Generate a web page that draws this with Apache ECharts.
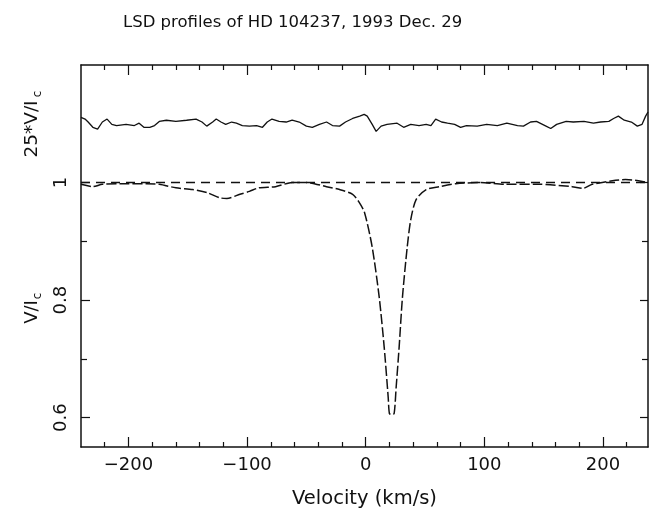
<!DOCTYPE html>
<html>
<head>
<meta charset="utf-8">
<script src="https://cdn.jsdelivr.net/npm/echarts@6/dist/echarts.min.js"></script>
<style>
html,body{margin:0;padding:0;background:#fff;}
#chart{width:650px;height:516px;}
</style>
</head>
<body>
<div id="chart"></div>
<script>
// ---- data ----
var titleText = 'LSD profiles of HD 104237, 1993 Dec. 29';
var xName = 'Velocity (km/s)';
var xMajorTicks = [-200, -100, 0, 100, 200];
var xMinorTicks = [-220, -180, -160, -140, -120, -80, -60, -40, -20, 20, 40, 60, 80, 120, 140, 160, 180, 220];
var yMajorTicks = [0.6, 0.8, 1.0];
var yMinorTicks = [0.7, 0.9];

// Stokes I profile (V/Ic in the label), velocity [km/s] vs normalised intensity
var iProfile = [
  [-240, 0.997], [-230, 0.993], [-222, 0.997], [-202, 0.998], [-185, 0.998], [-174, 0.997],
  [-160, 0.991], [-146, 0.988], [-134, 0.983], [-123, 0.974], [-117, 0.973], [-106, 0.980],
  [-98, 0.985], [-90, 0.991], [-76, 0.993], [-62, 1.000], [-50, 1.000], [-33, 0.993],
  [-22, 0.988], [-11, 0.980], [-6, 0.968], [-1, 0.949], [5.5, 0.890], [11.4, 0.805],
  [15.6, 0.720], [19, 0.634], [20, 0.607], [22, 0.605], [24, 0.607], [25.7, 0.652],
  [28.2, 0.720], [31, 0.805], [35, 0.890], [38, 0.937], [42.5, 0.971], [51, 0.988],
  [62, 0.993], [76, 0.998], [96, 1.000], [118, 0.997], [146, 0.997], [174, 0.993],
  [183, 0.990], [191, 0.997], [208, 1.003], [219, 1.005], [230, 1.003], [238, 1.000]
];

// Stokes V profile, plotted as 25*V/Ic shifted to 1.1
var vProfile = [
  [-240, 1.111], [-236.6, 1.108], [-234, 1.103], [-230, 1.094], [-226, 1.091], [-222, 1.103],
  [-218, 1.108], [-214, 1.099], [-210, 1.097], [-202, 1.099], [-195, 1.097], [-191, 1.101],
  [-187, 1.094], [-182, 1.094], [-178, 1.097], [-174, 1.104], [-168, 1.106], [-160, 1.104],
  [-151, 1.106], [-143, 1.108], [-138, 1.103], [-134, 1.096], [-129, 1.103], [-126, 1.108],
  [-122, 1.103], [-118, 1.099], [-113, 1.103], [-109, 1.101], [-104, 1.097], [-98, 1.096],
  [-92, 1.097], [-87, 1.094], [-83, 1.103], [-79, 1.108], [-73, 1.104], [-67, 1.103],
  [-62, 1.106], [-56, 1.103], [-50, 1.096], [-45, 1.094], [-39, 1.099], [-33, 1.103],
  [-28, 1.097], [-22, 1.096], [-17, 1.103], [-11, 1.109], [-5, 1.113], [-1.3, 1.116],
  [1.3, 1.113], [5.5, 1.099], [8.8, 1.087], [13, 1.096], [18, 1.099], [26.5, 1.101],
  [32, 1.094], [38, 1.099], [45, 1.097], [51, 1.099], [55, 1.097], [59, 1.108],
  [64, 1.103], [69, 1.101], [75, 1.099], [80, 1.094], [85, 1.097], [94, 1.096],
  [102, 1.099], [111, 1.097], [119, 1.101], [128, 1.097], [133, 1.096], [139, 1.103],
  [144, 1.104], [152, 1.096], [156, 1.092], [161, 1.099], [169, 1.104], [175, 1.103],
  [184, 1.104], [192, 1.101], [198, 1.103], [205, 1.104], [209, 1.109], [213, 1.113],
  [218, 1.106], [224, 1.103], [229, 1.096], [233, 1.099], [236, 1.113], [238, 1.120]
];

// continuum level
var continuum = [[-240, 1.0], [238, 1.0]];

var X_MIN = -240, X_MAX = 238, Y_MIN = 0.55, Y_MAX = 1.2;

// ---- chart ----
var FONT = 'DejaVu Sans';
var INK = '#111';
var chart = echarts.init(document.getElementById('chart'), null, {renderer: 'canvas'});

function xAx(pos, ticks, len, showLine, showLabel) {
  return {
    type: 'value', position: pos, min: X_MIN, max: X_MAX,
    axisLine: {show: showLine, onZero: false, lineStyle: {color: INK, width: 1.5}},
    axisTick: {show: true, inside: true, length: len, customValues: ticks, lineStyle: {color: INK, width: 1.2}},
    axisLabel: showLabel ? {show: true, customValues: ticks, margin: 9, fontFamily: FONT, fontSize: 18, color: INK,
      formatter: function (v) { return String(v).replace('-', '\u2212'); }} : {show: false},
    splitLine: {show: false}
  };
}
function yAx(pos, ticks, len, showLine, showLabel) {
  return {
    type: 'value', position: pos, min: Y_MIN, max: Y_MAX,
    axisLine: {show: showLine, onZero: false, lineStyle: {color: INK, width: 1.5}},
    axisTick: {show: true, inside: true, length: len, customValues: ticks, lineStyle: {color: INK, width: 1.2}},
    axisLabel: showLabel ? {show: true, customValues: ticks, rotate: 90, margin: 11, fontFamily: FONT, fontSize: 18, color: INK,
      formatter: function (v) { return String(+v.toFixed(2)); }} : {show: false},
    splitLine: {show: false}
  };
}

var xb = xAx('bottom', xMajorTicks, 10, true, true);
xb.name = xName;
xb.nameLocation = 'middle';
xb.nameGap = 42;
xb.nameTextStyle = {fontFamily: FONT, fontSize: 19.5, color: INK};

var option = {
  animation: false,
  backgroundColor: '#fff',
  title: {
    text: titleText, left: 118, top: 9,
    textStyle: {fontFamily: FONT, fontSize: 16.5, fontWeight: 'normal', color: INK}
  },
  grid: {left: 81, right: 2, top: 65, bottom: 69, containLabel: false},
  xAxis: [
    xb,
    xAx('bottom', xMinorTicks, 5, false, false),
    xAx('top', xMajorTicks, 10, true, false),
    xAx('top', xMinorTicks, 5, false, false)
  ],
  yAxis: [
    yAx('left', yMajorTicks, 9, true, true),
    yAx('left', yMinorTicks, 6, false, false),
    yAx('right', yMajorTicks, 8, true, false),
    yAx('right', yMinorTicks, 6, false, false)
  ],
  series: [
    {
      name: 'continuum', type: 'line', data: continuum, xAxisIndex: 0, yAxisIndex: 0,
      showSymbol: false, silent: true,
      lineStyle: {color: INK, width: 1.4, type: [9, 6]}
    },
    {
      name: 'I', type: 'line', data: iProfile, xAxisIndex: 0, yAxisIndex: 0,
      showSymbol: false, smooth: 0.25,
      lineStyle: {color: INK, width: 1.5, type: [10, 3]}
    },
    {
      name: 'V', type: 'line', data: vProfile, xAxisIndex: 0, yAxisIndex: 0,
      showSymbol: false,
      lineStyle: {color: INK, width: 1.3}
    }
  ],
  graphic: [
    {type: 'text', x: 32, y: 129, rotation: Math.PI / 2,
      style: {text: '25*V/I', fontFamily: FONT, fontSize: 18.5, fill: INK, align: 'center', verticalAlign: 'middle'}},
    {type: 'text', x: 38, y: 94, rotation: Math.PI / 2,
      style: {text: 'c', fontFamily: FONT, fontSize: 12, fill: INK, align: 'center', verticalAlign: 'middle'}},
    {type: 'text', x: 32, y: 312, rotation: Math.PI / 2,
      style: {text: 'V/I', fontFamily: FONT, fontSize: 18, fill: INK, align: 'center', verticalAlign: 'middle'}},
    {type: 'text', x: 38, y: 296, rotation: Math.PI / 2,
      style: {text: 'c', fontFamily: FONT, fontSize: 12, fill: INK, align: 'center', verticalAlign: 'middle'}}
  ]
};
chart.setOption(option);
</script>
</body>
</html>
